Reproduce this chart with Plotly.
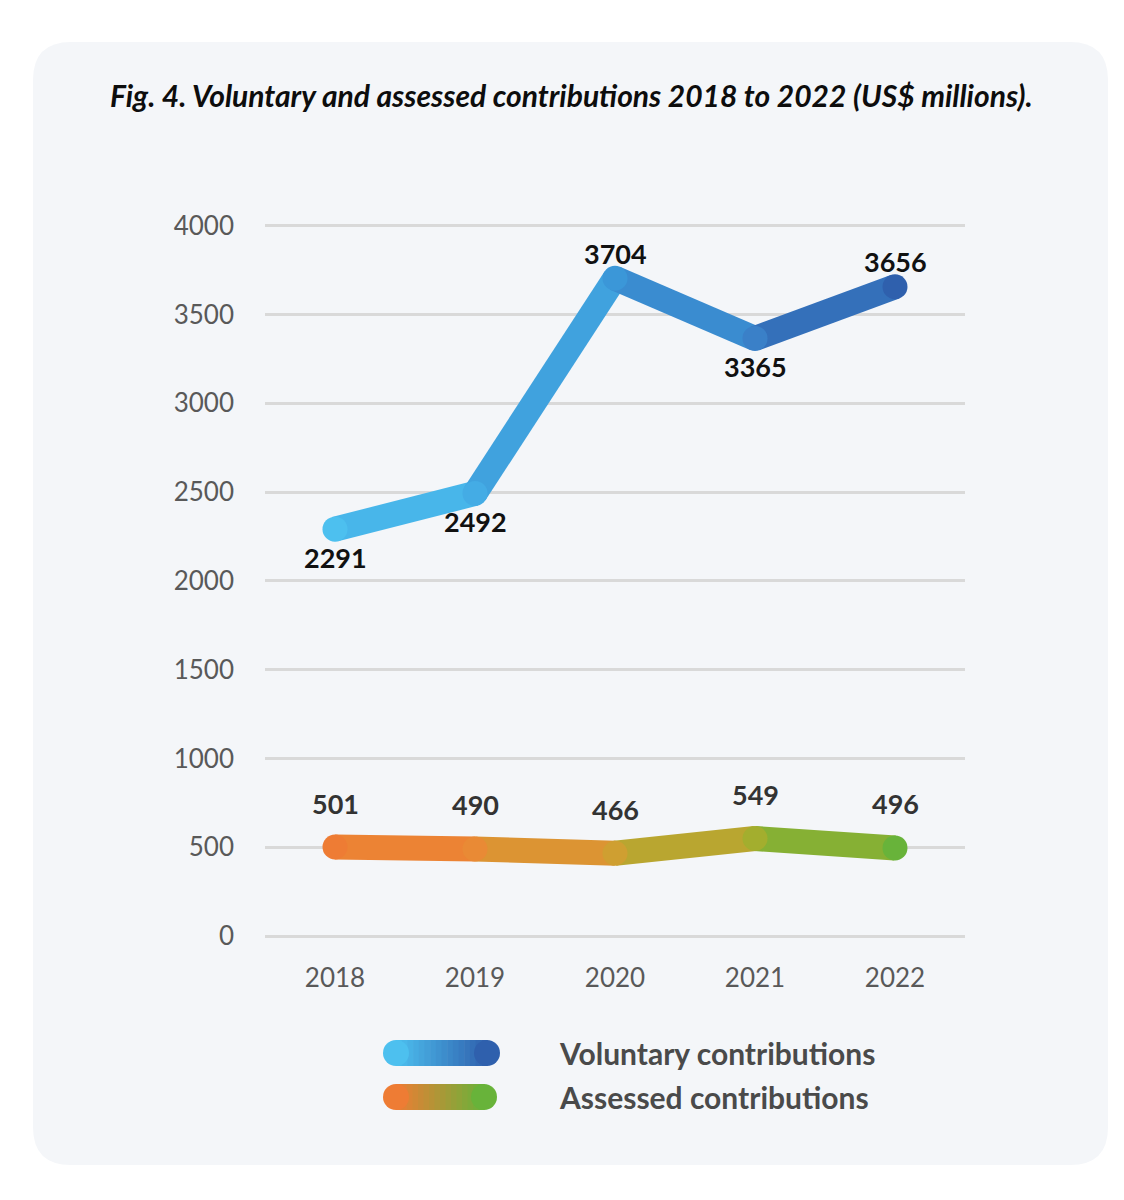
import plotly.graph_objects as go

years = [2018, 2019, 2020, 2021, 2022]
voluntary = [2291, 2492, 3704, 3365, 3656]
assessed = [501, 490, 466, 549, 496]
year_labels = ["2018", "2019", "2020", "2021", "2022"]
y_ticks = [0, 500, 1000, 1500, 2000, 2500, 3000, 3500, 4000]
series_names = ["Voluntary contributions", "Assessed contributions"]
title_text = "Fig. 4. Voluntary and assessed contributions 2018 to 2022 (US$ millions)."

# styles
vol_colors = ["#4dc0ef", "#44ace5", "#3b97d8", "#3a80c8", "#2f60ad"]
ass_colors = ["#ee7c34", "#e98a35", "#cf9f31", "#a3ae2e", "#68b33a"]
vol_label_pos = ["below", "below", "above", "below", "above"]

FONT = "Lato"
LW = 25
OFF = 8  # page body margin
L, R, T, B = 265 - OFF, 965 - OFF, 223 - OFF, 936 - OFF  # plot area in figure px
W, H = R - L, B - T
Y_MAX = 4015


def px(xp):
    return (xp - OFF - L) / W


def py(yp):
    return (B - (yp - OFF)) / H


def mix(c1, c2, t=0.5):
    a = [int(c1[i:i + 2], 16) for i in (1, 3, 5)]
    b = [int(c2[i:i + 2], 16) for i in (1, 3, 5)]
    return "#%02x%02x%02x" % tuple(round(a[k] + (b[k] - a[k]) * t) for k in range(3))


fig = go.Figure()


def add_series(xs, ys, colors):
    for i in range(len(xs) - 1):
        fig.add_trace(go.Scatter(
            x=xs[i:i + 2], y=ys[i:i + 2], mode="lines",
            line=dict(color=mix(colors[i], colors[i + 1]), width=LW),
            hoverinfo="skip", showlegend=False, cliponaxis=False))
    fig.add_trace(go.Scatter(
        x=xs, y=ys, mode="markers",
        marker=dict(color=colors, size=LW, line=dict(width=0)),
        hoverinfo="skip", showlegend=False, cliponaxis=False))


add_series(years, voluntary, vol_colors)
add_series(years, assessed, ass_colors)

annotations = []
for x, v, pos in zip(years, voluntary, vol_label_pos):
    annotations.append(dict(
        x=x, y=v, xref="x", yref="y", text="<b>%d</b>" % v, showarrow=False,
        yshift=(-28 if pos == "below" else 25),
        font=dict(family=FONT, size=27, color="#111111")))
for x, v in zip(years, assessed):
    annotations.append(dict(
        x=x, y=v, xref="x", yref="y", text="<b>%d</b>" % v, showarrow=False,
        yshift=44, font=dict(family=FONT, size=27, color="#333333")))

# title
annotations.append(dict(
    x=px(571), y=py(95), xref="paper", yref="paper", text="<b><i>%s</i></b>" % title_text,
    showarrow=False, xanchor="center", yanchor="middle",
    font=dict(family=FONT, size=30, color="#0d0d0d")))

# legend text
for name, ly in zip(series_names, [1053, 1097]):
    annotations.append(dict(
        x=px(557), y=py(ly), xref="paper", yref="paper", text="<b>%s</b>" % name,
        showarrow=False, xanchor="left", yanchor="middle",
        font=dict(family=FONT, size=30, color="#4a4a4a")))

shapes = []
# rounded background panel
x0, x1, y0, y1, r = 33, 1108, 42, 1165, 38
path = (
    f"M {px(x0 + r)},{py(y0)} L {px(x1 - r)},{py(y0)} "
    f"Q {px(x1)},{py(y0)} {px(x1)},{py(y0 + r)} "
    f"L {px(x1)},{py(y1 - r)} Q {px(x1)},{py(y1)} {px(x1 - r)},{py(y1)} "
    f"L {px(x0 + r)},{py(y1)} Q {px(x0)},{py(y1)} {px(x0)},{py(y1 - r)} "
    f"L {px(x0)},{py(y0 + r)} Q {px(x0)},{py(y0)} {px(x0 + r)},{py(y0)} Z"
)
shapes.append(dict(type="path", path=path, xref="paper", yref="paper",
                   fillcolor="#f4f6f9", line=dict(width=0), layer="below"))


# legend swatches (gradient pills)
def pill(xa, xb, yc, c_start, c_end, n=16):
    h = 26
    step = (xb - xa) / n
    for k in range(n):
        c = mix(c_start, c_end, (k + 0.5) / n)
        shapes.append(dict(type="rect", xref="paper", yref="paper",
                           x0=px(xa + k * step), x1=px(xa + (k + 1) * step + 0.6),
                           y0=py(yc + h / 2), y1=py(yc - h / 2),
                           fillcolor=c, line=dict(width=0), layer="above"))
    for xc, c in ((xa, c_start), (xb, c_end)):
        shapes.append(dict(type="circle", xref="paper", yref="paper",
                           xsizemode="pixel", ysizemode="pixel",
                           xanchor=px(xc), yanchor=py(yc),
                           x0=-h / 2, x1=h / 2, y0=-h / 2, y1=h / 2,
                           fillcolor=c, line=dict(width=0), layer="above"))


pill(396, 487, 1053, vol_colors[0], vol_colors[-1])
pill(396, 484, 1097, ass_colors[0], ass_colors[-1])

fig.update_layout(
    width=1124, height=1200,
    margin=dict(l=L, r=1124 - R, t=T, b=1200 - B, pad=0),
    paper_bgcolor="white", plot_bgcolor="rgba(0,0,0,0)",
    showlegend=False,
    annotations=annotations, shapes=shapes,
    font=dict(family=FONT),
    xaxis=dict(range=[2017.5, 2022.5], tickvals=years, ticktext=year_labels,
               showgrid=False, zeroline=False, showline=False, ticks="",
               tickfont=dict(family=FONT, size=26, color="#595959"),
               ticklabelstandoff=24, fixedrange=True),
    yaxis=dict(range=[0, Y_MAX], tickvals=y_ticks,
               showgrid=True, gridcolor="#d9d9d9", gridwidth=3,
               zeroline=True, zerolinecolor="#d9d9d9", zerolinewidth=3,
               showline=False, ticks="",
               tickfont=dict(family=FONT, size=26, color="#595959"),
               ticklabelstandoff=30, fixedrange=True),
)

fig.write_html("out.html")
